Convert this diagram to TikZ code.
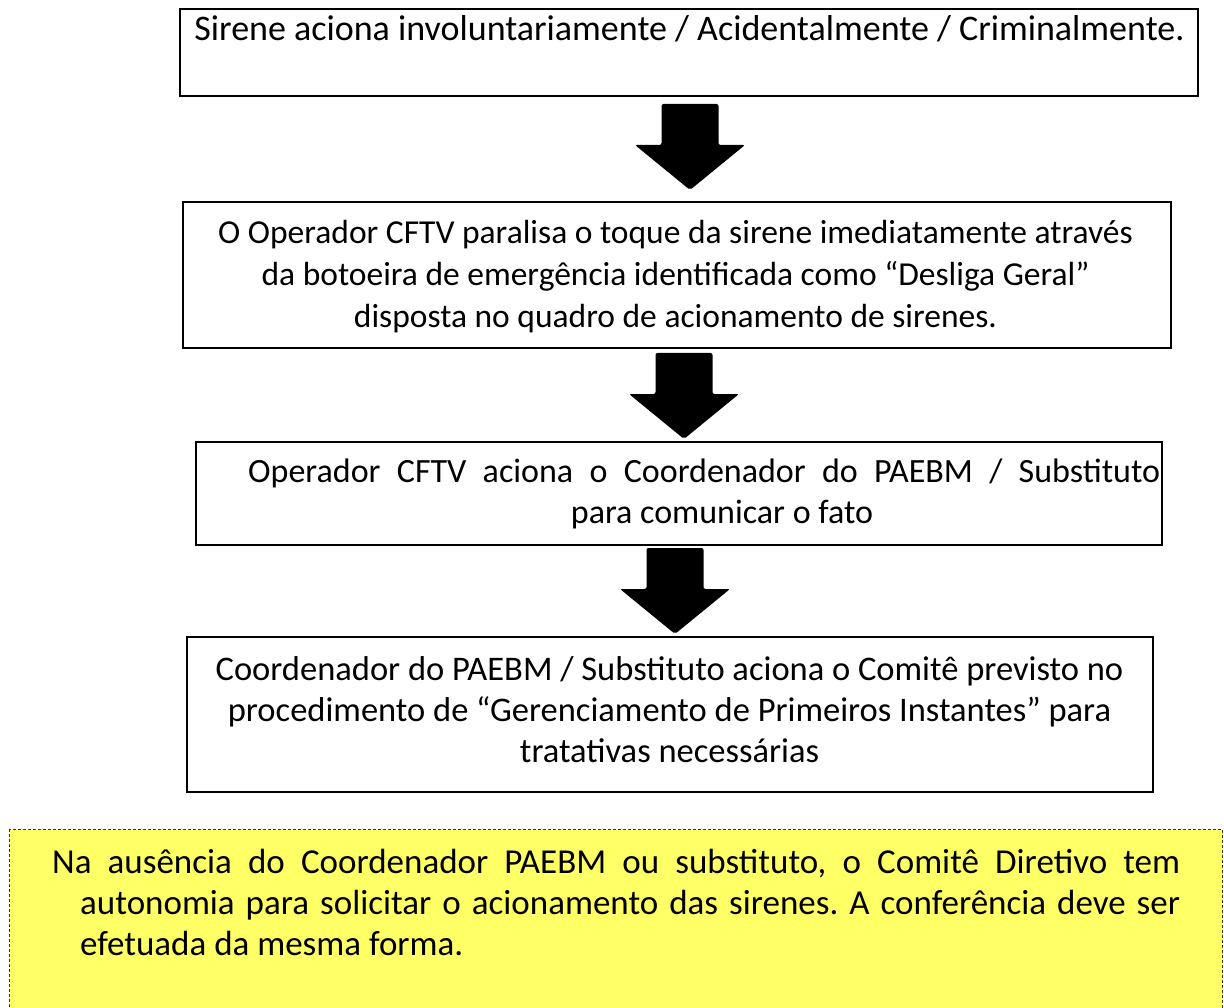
\documentclass[tikz,border=0pt]{standalone}
\usepackage{fontspec}
\setmainfont{Carlito}
\usetikzlibrary{calc}
\definecolor{noteyellow}{HTML}{FFFF66}
\frenchspacing
\begin{document}
\begin{tikzpicture}[x=1pt,y=-1pt,
  box/.style={draw, line width=2pt, inner sep=0pt, anchor=north west},
  txt/.style={inner sep=0pt, align=center, anchor=base},
  txtl/.style={inner sep=0pt, align=left, anchor=base west},
  note/.style={draw=black!80, fill=noteyellow, line width=1.2pt, dash pattern=on 3pt off 2pt, inner sep=0pt, anchor=north west},
  blockarr/.pic={\fill[rounded corners=2pt] (-28.5,0) -- (28.5,0) -- (28.5,41) -- (55,41) -- (0,86) -- (-55,41) -- (-28.5,41) -- cycle;}
]
\useasboundingbox (0,0) rectangle (1224,1008);

% boxes
\node[box, minimum width=1018, minimum height=87] (b1) at (179,8) {};
\node[box, minimum width=988, minimum height=146] (b2) at (182,201) {};
\node[box, minimum width=966, minimum height=103] (b3) at (195,441) {};
\node[box, minimum width=966, minimum height=155] (b4) at (186,636) {};
\node[note, minimum width=1213, minimum height=185] (n) at (9,829) {};

% texts (anchor base = baseline of the last line)
\node[txt, font=\fontsize{36}{42}\selectfont] (t1) at (689.5,41) {Sirene aciona involuntariamente / Acidentalmente / Criminalmente.};
\node[txt, font=\fontsize{33.5}{42.5}\selectfont] (t2) at (675.5,328) {O Operador CFTV paralisa o toque da sirene imediatamente através\\da botoeira de emergência identificada como “Desliga Geral”\\disposta no quadro de acionamento de sirenes.};
\node[txtl, font=\fontsize{34}{41}\selectfont] (t3a) at (248,482) {\makebox[912pt][s]{Operador CFTV aciona o Coordenador do PAEBM / Substituto}};
\node[txt, font=\fontsize{34}{41}\selectfont] (t3b) at (722,523) {para comunicar o fato};
\node[txt, font=\fontsize{34.5}{41}\selectfont] (t4) at (669.5,762) {Coordenador do PAEBM / Substituto aciona o Comitê previsto no\\procedimento de “Gerenciamento de Primeiros Instantes” para\\tratativas necessárias};
\node[txtl, font=\fontsize{35}{41}\selectfont] (t5) at (52,955) {\makebox[1128pt][s]{Na ausência do Coordenador PAEBM ou substituto, o Comitê Diretivo tem}\\
\hspace*{28pt}\makebox[1100pt][s]{autonomia para solicitar o acionamento das sirenes. A conferência deve ser}\\
\hspace*{28pt}efetuada da mesma forma.};

% block arrows
\pic at ($(b1.south)+(1,7)$) {blockarr};
\pic at ($(b2.south)+(7,4)$) {blockarr};
\pic at ($(b3.south)+(-4,2)$) {blockarr};
\end{tikzpicture}
\end{document}
